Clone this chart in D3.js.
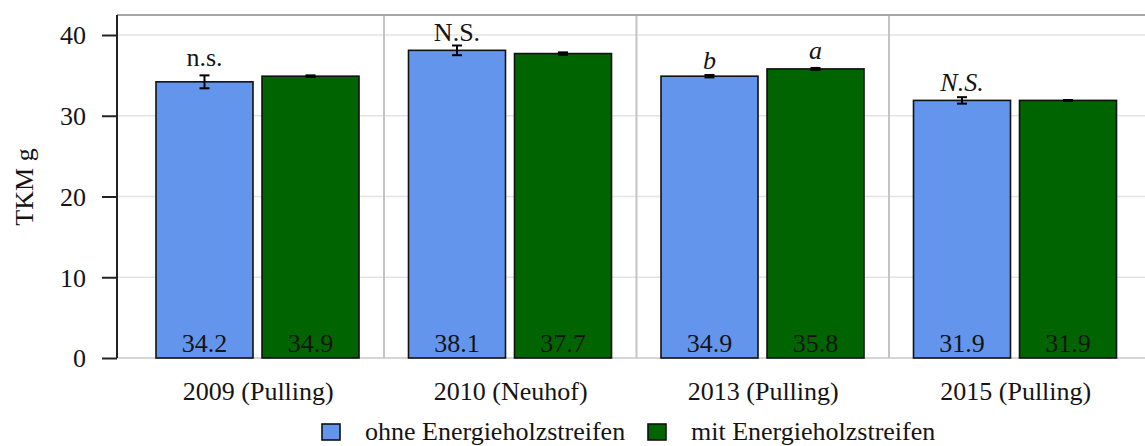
<!DOCTYPE html>
<html>
<head>
<meta charset="utf-8">
<script src="https://cdn.jsdelivr.net/npm/d3@7"></script>
<style>
  body { margin: 0; background: #fff; }
  svg text { font-family: "Liberation Serif", "Times New Roman", serif; fill: #141414; }
</style>
</head>
<body>
<svg id="chart" width="1145" height="446"></svg>
<script>
// data
const years = ["2009 (Pulling)", "2010 (Neuhof)", "2013 (Pulling)", "2015 (Pulling)"];
const series = ["ohne Energieholzstreifen", "mit Energieholzstreifen"];
const ohne = [34.2, 38.1, 34.9, 31.9];
const mit = [34.9, 37.7, 35.8, 31.9];
const seOhne = [0.8, 0.6, 0.15, 0.4];
const seMit = [0.1, 0.15, 0.12, 0.05];
const yTicks = [0, 10, 20, 30, 40];

// significance letters: text, year, series, y (data units), italic?
const sigText = ["n.s.", "N.S.", "b", "a", "N.S."];
const sigYear = [0, 1, 2, 2, 3];
const sigSeries = [0, 0, 0, 1, 0];
const sigAt = [36.1, 39.3, 35.75, 37.0, 33.1];
const sigItalic = [false, false, true, true, true];

const colors = ["#6495ED", "#006400"];

const svg = d3.select("#chart");
const W = 1145, H = 446;
const padLeft = 117, padTop = 15, baseY = 358;

const y = d3.scaleLinear().domain([0, 40]).range([baseY, 35]);
const fx = d3.scaleBand().domain(years).range([131.5, 1141.5]).padding(0);
const sx = d3.scaleBand().domain(series).range([24.5, 227.5]).paddingInner(0.085).paddingOuter(0);

const values = [ohne, mit];
const ses = [seOhne, seMit];

// grid
svg.append("g").selectAll("line").data(yTicks.slice(1)).join("line")
  .attr("x1", padLeft).attr("x2", W + 5)
  .attr("y1", d => y(d)).attr("y2", d => y(d))
  .attr("stroke", "#e3e3e3").attr("stroke-width", 1.3);

// facet separators
svg.append("g").selectAll("line").data(years.slice(1)).join("line")
  .attr("x1", d => fx(d)).attr("x2", d => fx(d))
  .attr("y1", padTop).attr("y2", baseY)
  .attr("stroke", "#c4c4c4").attr("stroke-width", 2);

// top border and bottom line
svg.append("line").attr("x1", padLeft).attr("x2", W + 5).attr("y1", padTop).attr("y2", padTop)
  .attr("stroke", "#a6a6a6").attr("stroke-width", 2);
svg.append("line").attr("x1", padLeft).attr("x2", W + 5).attr("y1", baseY).attr("y2", baseY)
  .attr("stroke", "#c8c8c8").attr("stroke-width", 1.3);

// bars
const facets = svg.append("g").selectAll("g").data(years).join("g")
  .attr("transform", d => `translate(${fx(d)},0)`);

facets.each(function(yr, i) {
  const g = d3.select(this);
  series.forEach((s, j) => {
    const v = values[j][i], se = ses[j][i];
    const cx = sx(s) + sx.bandwidth() / 2;
    g.append("rect")
      .attr("x", sx(s)).attr("width", sx.bandwidth())
      .attr("y", y(v)).attr("height", y(0) - y(v))
      .attr("fill", colors[j]).attr("stroke", "#111").attr("stroke-width", 1.6);
    // error bar
    const eb = g.append("g").attr("stroke", "#000").attr("stroke-width", 2);
    eb.append("line").attr("x1", cx).attr("x2", cx).attr("y1", y(v + se)).attr("y2", y(v - se));
    eb.append("line").attr("x1", cx - 5).attr("x2", cx + 5).attr("y1", y(v + se)).attr("y2", y(v + se));
    eb.append("line").attr("x1", cx - 5).attr("x2", cx + 5).attr("y1", y(v - se)).attr("y2", y(v - se));
    // value label
    g.append("text").attr("x", cx).attr("y", baseY - 6)
      .attr("text-anchor", "middle").attr("font-size", 26)
      .text(d3.format(".1f")(v));
  });
  // x label
  svg.append("text").attr("x", fx(yr) + fx.bandwidth() / 2 + 0.5).attr("y", 400)
    .attr("text-anchor", "middle").attr("font-size", 26).text(yr);
});

// significance letters
svg.append("g").selectAll("text").data(sigText).join("text")
  .attr("x", (d, k) => fx(years[sigYear[k]]) + sx(series[sigSeries[k]]) + sx.bandwidth() / 2)
  .attr("y", (d, k) => y(sigAt[k]))
  .attr("text-anchor", "middle").attr("font-size", 26)
  .attr("font-style", (d, k) => sigItalic[k] ? "italic" : "normal")
  .text(d => d);

// y axis
const yAxis = d3.axisLeft(y).tickValues(yTicks).tickSize(15).tickPadding(16);
const ya = svg.append("g").attr("transform", `translate(${padLeft},0)`).call(yAxis);
ya.select(".domain").attr("d", `M0,${padTop}V${baseY}`).attr("stroke", "#222").attr("stroke-width", 2);
ya.selectAll(".tick line").attr("stroke", "#222").attr("stroke-width", 2);
ya.selectAll(".tick text").attr("font-size", 26).attr("font-family", "Liberation Serif").attr("fill", "#141414").attr("dy", "0.34em");

svg.append("text").attr("transform", "translate(33,187) rotate(-90)")
  .attr("text-anchor", "middle").attr("font-size", 26).text("TKM g");

// legend
const lg = svg.append("g");
const legX = [322, 648];
series.forEach((s, j) => {
  lg.append("rect").attr("x", legX[j]).attr("y", 424).attr("width", 18).attr("height", 16)
    .attr("fill", colors[j]).attr("stroke", "#111").attr("stroke-width", 1.6);
  lg.append("text").attr("x", legX[j] + 43).attr("y", 440).attr("font-size", 26).text(s);
});
</script>
</body>
</html>
